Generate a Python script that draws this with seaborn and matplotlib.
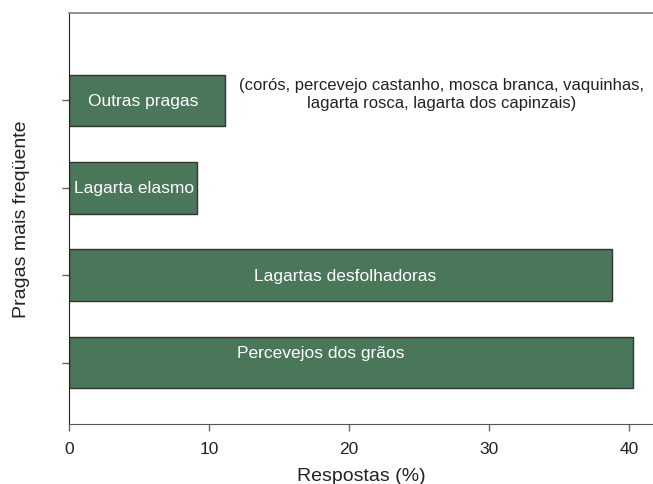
import matplotlib
matplotlib.use('Agg')
import matplotlib.pyplot as plt
import seaborn as sns
import pandas as pd

pragas = ['Outras pragas', 'Lagarta elasmo', 'Lagartas desfolhadoras', 'Percevejos dos grãos']
respostas = [11.1, 9.1, 38.8, 40.3]
nota = '(corós, percevejo castanho, mosca branca, vaquinhas,\nlagarta rosca, lagarta dos capinzais)'

# onde ficam os rótulos dentro das barras (x em %, deslocamento vertical)
rot_x = [5.25, 4.6, 19.7, 18.0]
rot_dy = [0, 0, 0, -0.12]

df = pd.DataFrame({'praga': pragas, 'resp': respostas})

sns.set_style('ticks')
plt.rcParams['font.family'] = ['Liberation Sans', 'DejaVu Sans']

fig = plt.figure(figsize=(6.53, 4.85), dpi=100)
ax = fig.add_axes([0.106, 0.124, 0.894, 0.847])

sns.barplot(data=df, x='resp', y='praga', order=pragas, color='#4a775a',
            saturation=1, edgecolor='#333333', linewidth=1.0, width=0.59, ax=ax)

# texto dentro das barras
for i, p in enumerate(pragas):
    ax.text(rot_x[i], i + rot_dy[i], p, color='white', fontsize=12.5,
            ha='center', va='center')

ax.text(26.6, -0.08, nota, fontsize=12, color='#222222', ha='center', va='center',
        linespacing=1.25)

ax.set_xlim(0, 41.7)
ax.set_ylim(3.7, -1.0)
ax.set_xticks([0, 10, 20, 30, 40])
ax.set_yticklabels([])
ax.set_xlabel('Respostas (%)', fontsize=14, color='#222222', labelpad=8)
ax.set_ylabel('Pragas mais freqüente', fontsize=14, color='#222222', labelpad=20)
ax.tick_params(axis='both', length=5, width=1, color='#666666', labelsize=12.5,
               labelcolor='#222222')
ax.tick_params(axis='x', pad=7)

ax.spines['right'].set_visible(False)
ax.spines['top'].set_color('#888888')
ax.spines['top'].set_linewidth(1.3)
ax.spines['left'].set_color('#222222')
ax.spines['bottom'].set_color('#555555')

plt.savefig('out.png', dpi=100)
